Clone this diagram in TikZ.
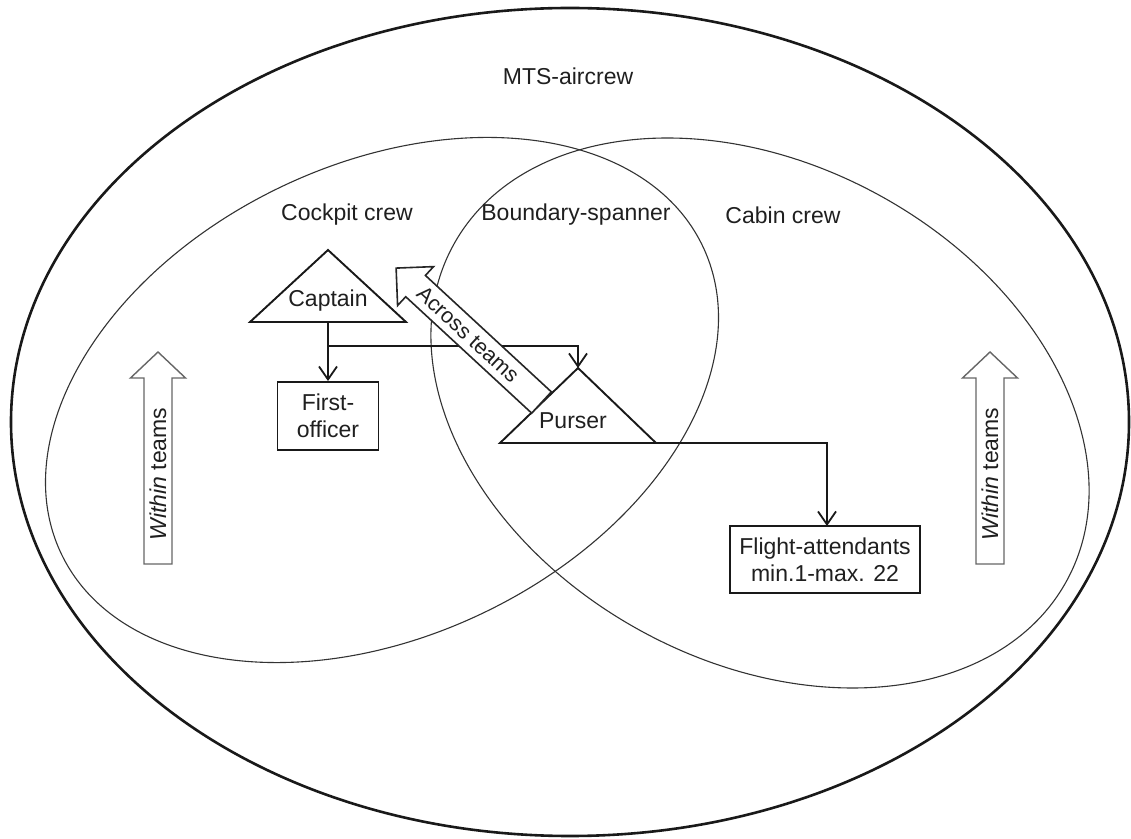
\documentclass[tikz,border=0pt]{standalone}
\usepackage{fontspec}
\setmainfont{Liberation Sans}
\usetikzlibrary{arrows.meta}
\begin{document}
\begin{tikzpicture}[x=1pt,y=1pt,
  lbl/.style={font=\fontsize{23}{27}\selectfont, inner sep=0pt, text=black!88, align=center},
  outerline/.style={line width=2.6pt, draw=black!90},
  setline/.style={line width=1.1pt, draw=black!80},
  shapeline/.style={line width=1.9pt, draw=black!90, fill=white, line join=miter},
  boxnode/.style={lbl, draw=black!90, line width=1.9pt, fill=white, inner sep=0pt},
  conn/.style={line width=1.8pt, draw=black!90, -{Straight Barb[length=13pt,width=18pt,line width=1.8pt]}},
  blockarrow/.style={line width=1.4pt, draw=black!60, fill=white, line join=miter},
  acrossarrow/.style={line width=1.6pt, draw=black!85, fill=white, line join=miter}]
\useasboundingbox (0,0) rectangle (1131,838);

% sets
\draw[outerline] (570,416) ellipse [x radius=559pt, y radius=414pt];
\draw[setline, rotate around={25.7:(382,438)}] (382,438) ellipse [x radius=355.7pt, y radius=235.8pt];
\draw[setline, rotate around={-28.7:(760,425)}] (760,425) ellipse [x radius=349.6pt, y radius=248.3pt];

% labels of sets
\node[lbl] (mts) at (568,762) {MTS-aircrew};
\node[lbl] (cockpit) at (347,623) {Cockpit crew};
\node[lbl] (bspan) at (576,623) {Boundary-spanner};
\node[lbl] (cabin) at (783,623) {Cabin crew};

% captain
\coordinate (capA) at (328,588);
\coordinate (capL) at (250,516);
\coordinate (capR) at (406,516);
\coordinate (capB) at (328,516);
\draw[shapeline] (capA) -- (capL) -- (capR) -- cycle;
\node[lbl] (captain) at (328,537) {Captain};

% first officer
\node[boxnode, minimum width=101pt, minimum height=68pt] (fo) at (328,422) {First-\\officer};

% purser
\coordinate (purA) at (578,470);
\coordinate (purL) at (500,395);
\coordinate (purR) at (656,395);
\draw[shapeline] (purA) -- (purL) -- (purR) -- cycle;
\node[lbl] (purser) at (573,417) {Purser};

% flight attendants
\node[boxnode, minimum width=190pt, minimum height=67pt] (fa) at (825,278.5) {Flight-attendants\\min.1-max. 22};
\coordinate (faT) at (827,312);

% connectors
\coordinate (br) at (328,492);
\draw[conn] (capB) -- (fo.north);
\draw[conn] (br) -| (purA);
\draw[conn] (purR) -| (faT);

% across teams arrow
\begin{scope}[shift={(541.5,435.5)}, rotate=137.25]
  \draw[acrossarrow] (0,-14.5) -- (171.5,-14.5) -- (171.5,-26.5) -- (198,0)
     -- (171.5,26.5) -- (171.5,14.5) -- (0,14.5) -- cycle;
  \node[lbl, font=\fontsize{21.5}{25}\selectfont, rotate=-42.75] (across) at (100,0) {Across teams};
\end{scope}

% within teams arrows
\draw[blockarrow] (144,274) -- (144,460) -- (130.5,460) -- (158,486) -- (185.5,460) -- (172,460) -- (172,274) -- cycle;
\node[lbl, rotate=90] (withinL) at (158,364) {\textit{Within} teams};
\draw[blockarrow] (976,274) -- (976,460) -- (962.5,460) -- (990,486) -- (1017.5,460) -- (1004,460) -- (1004,274) -- cycle;
\node[lbl, rotate=90] (withinR) at (990,364) {\textit{Within} teams};
\end{tikzpicture}
\end{document}
